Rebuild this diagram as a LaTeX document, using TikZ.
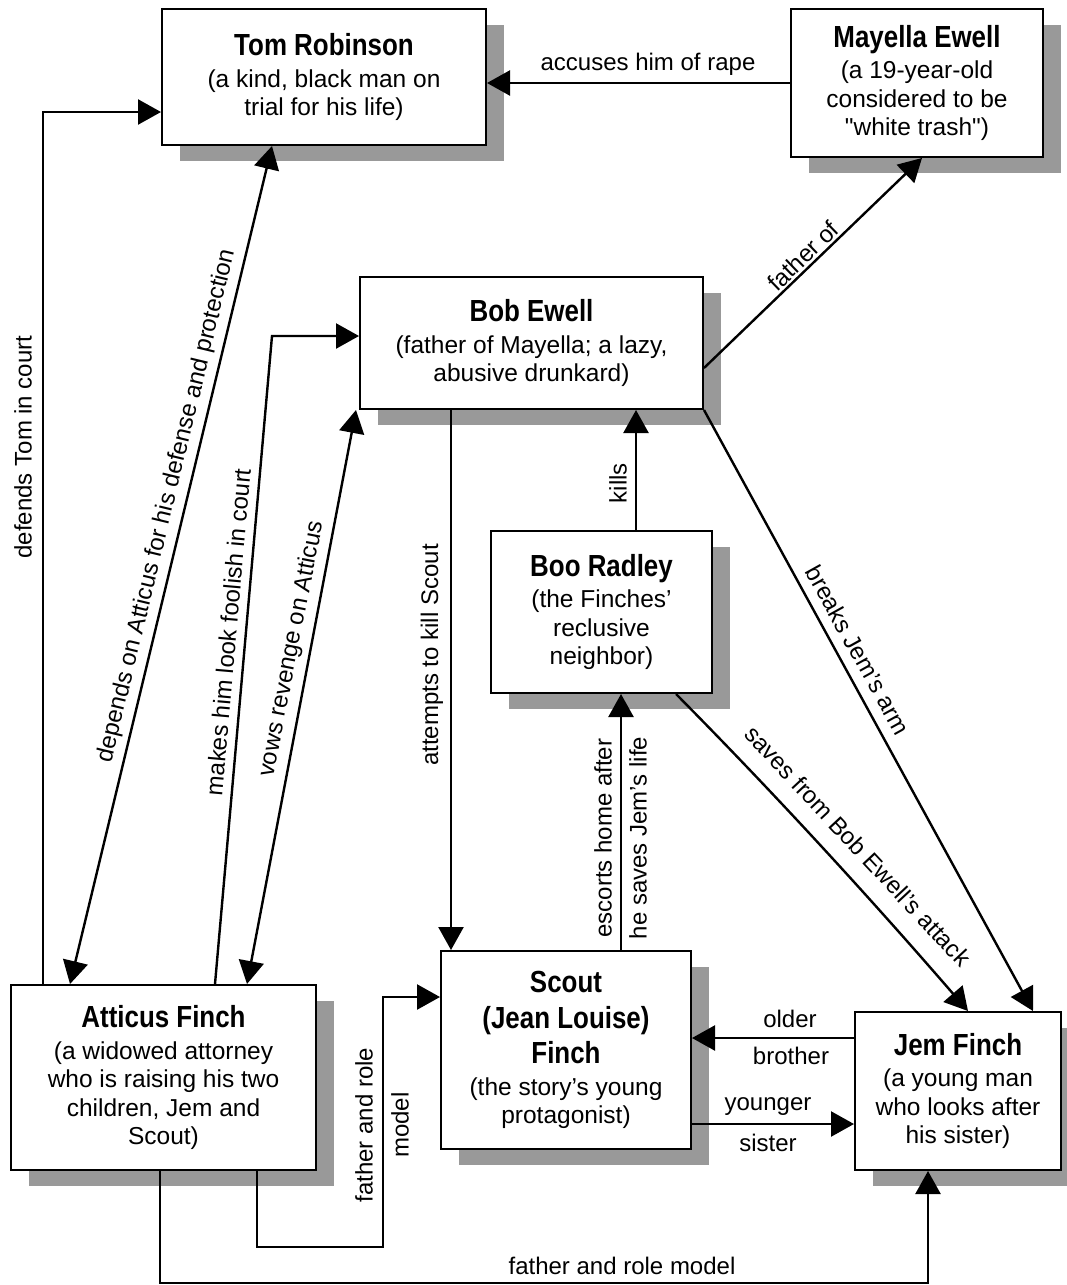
\documentclass[tikz,border=0pt]{standalone}
\usepackage{fontspec}
\setmainfont[Ligatures=TeXOff]{Liberation Sans}
\newfontfamily\titlefam[FakeStretch=0.85,Ligatures=TeXOff]{Liberation Sans}
\newfontfamily\labfam[Ligatures=TeXOff]{Liberation Sans}
\usetikzlibrary{arrows.meta,shadows}
\newcommand\ttl[1]{{\titlefam\bfseries\fontsize{30.5}{34}\selectfont #1}}
\begin{document}
\begin{tikzpicture}[x=1pt,y=-1pt,
  box/.style={draw=black, line width=2pt, fill=white, align=center, inner sep=0pt,
    font=\fontsize{24.5}{28.5}\selectfont,
    drop shadow={shadow xshift=18pt,shadow yshift=-16pt,fill=black!40,opacity=1}},
  conn/.style={line width=2.4pt, -{Triangle[length=23pt,width=25pt]}},
  dconn/.style={line width=2.4pt, {Triangle[length=23pt,width=25pt]}-{Triangle[length=23pt,width=25pt]}},
  lab/.style={font=\labfam\fontsize{24}{28}\selectfont, inner sep=0pt},
]
\path[use as bounding box, fill=white] (0,0) rectangle (1067,1285);

% boxes
\node[box, minimum width=324pt, minimum height=136pt] (tom) at (324,77)
  {\ttl{Tom Robinson}\\[3pt](a kind, black man on\\trial for his life)};
\node[box, minimum width=252pt, minimum height=148pt] (mayella) at (917,83)
  {\ttl{Mayella Ewell}\\[3pt](a 19-year-old\\considered to be\\"white trash")};
\node[box, minimum width=343pt, minimum height=132pt] (bob) at (531.5,343)
  {\ttl{Bob Ewell}\\[3pt](father of Mayella; a lazy,\\abusive drunkard)};
\node[box, minimum width=221pt, minimum height=162pt] (boo) at (601.5,612)
  {\ttl{Boo Radley}\\[3pt](the Finches’\\reclusive\\neighbor)};
\node[box, minimum width=250pt, minimum height=198pt] (scout) at (566,1050)
  {\ttl{Scout}\\[7pt]\ttl{(Jean Louise)}\\[7pt]\ttl{Finch}\\[3pt](the story’s young\\protagonist)};
\node[box, minimum width=305pt, minimum height=185pt] (atticus) at (163.5,1077.5)
  {\ttl{Atticus Finch}\\[3pt](a widowed attorney\\who is raising his two\\children, Jem and\\Scout)};
\node[box, minimum width=206pt, minimum height=158pt] (jem) at (958,1091)
  {\ttl{Jem Finch}\\[3pt](a young man\\who looks after\\his sister)};

% connectors
\draw[conn] (mayella.west) -- (mayella.west -| tom.east);
\draw[conn] (atticus.north -| 43,0) |- (tom.west |- 0,112);
\draw[dconn] (atticus.north -| 70,0) -- (tom.south -| 272,0);
\draw[conn] (atticus.north -| 215,0) -- (272,336) -- (bob.west |- 0,336);
\draw[dconn] (atticus.north -| 247,0) -- (bob.south -| 356,0);
\draw[conn] (bob.south -| 451,0) -- (scout.north -| 451,0);
\draw[conn] (boo.north -| 636,0) -- (bob.south -| 636,0);
\draw[conn] (bob.east |- 0,368) -- (mayella.south -| 922,0);
\draw[conn] (bob.south east) -- (jem.north -| 1033,0);
\draw[conn] (boo.south -| 676,0) .. controls (776,795) and (872,900) .. (jem.north -| 968,0);
\draw[conn] (scout.north -| 621,0) -- (boo.south -| 621,0);
\draw[conn] (jem.west |- 0,1038) -- (scout.east |- 0,1038);
\draw[conn] (scout.east |- 0,1124) -- (jem.west |- 0,1124);
\draw[conn] (atticus.south -| 257,0) |- (383,1247) |- (scout.west |- 0,997);
\draw[conn] (atticus.south -| 160,0) |- (928,1283) -- (jem.south -| 928,0);

% labels
\node[lab] (l1) at (648,64) {accuses him of rape};
\node[lab, rotate=90] (l2) at (23,447) {defends Tom in court};
\node[lab, rotate=76.5] (l3) at (167,506) {depends on Atticus for his defense and protection};
\node[lab, rotate=85] (l4) at (228,632) {makes him look foolish in court};
\node[lab, rotate=79] (l5) at (292,649) {vows revenge on Atticus};
\node[lab, rotate=90] (l6) at (432,655) {attempts to kill Scout};
\node[lab, rotate=90] (l7) at (618,483) {kills};
\node[lab, rotate=44] (l8) at (803,256) {father of};
\node[lab, rotate=-61] (l9) at (858,650) {breaks Jem’s arm};
\node[lab, rotate=-47] (l10) at (858,846) {saves from Bob Ewell’s attack};
\node[lab, rotate=90] (l11) at (603,838) {escorts home after};
\node[lab, rotate=90] (l12) at (638,838) {he saves Jem’s life};
\node[lab] (l13) at (790,1019) {older};
\node[lab] (l14) at (791,1056) {brother};
\node[lab] (l15) at (768,1107) {younger};
\node[lab] (l16) at (768,1143) {sister};
\node[lab, rotate=90] (l17) at (364,1125) {father and role};
\node[lab, rotate=90] (l18) at (400,1125) {model};
\node[lab] (l19) at (622,1266) {father and role model};
\end{tikzpicture}
\end{document}
